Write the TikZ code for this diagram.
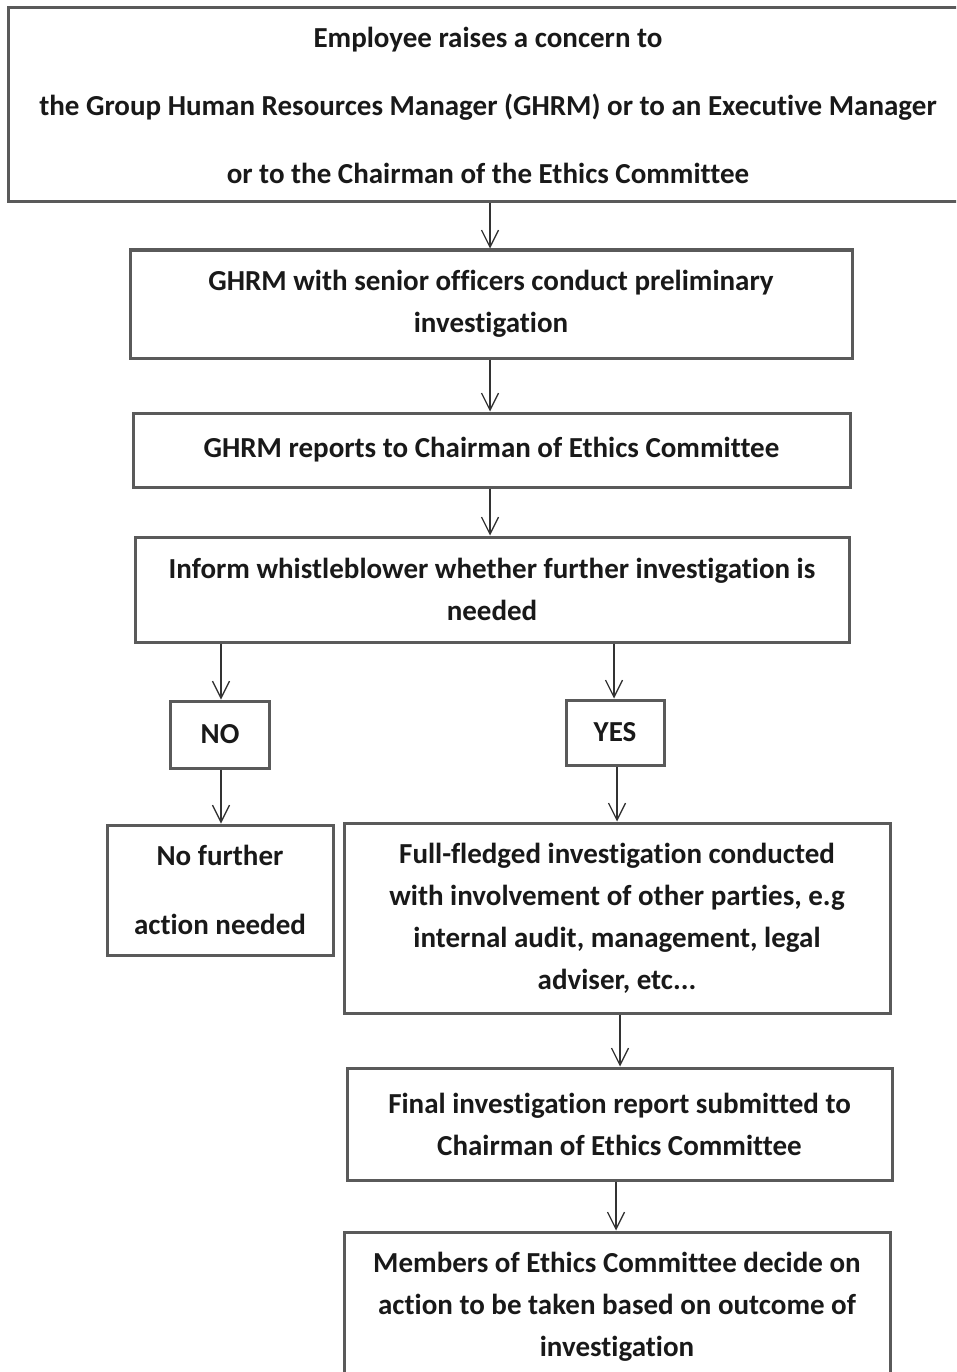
\documentclass[tikz,border=0pt]{standalone}
\usepackage{fontspec}
\setmainfont{Carlito}[Ligatures=NoCommon]
\usetikzlibrary{arrows.meta}
\definecolor{boxgray}{HTML}{5A5A5A}
\definecolor{arrgray}{HTML}{333333}
\begin{document}
\begin{tikzpicture}[x=1pt,y=-1pt,
  box/.style={draw=boxgray, line width=3pt, fill=white, align=center, inner sep=0pt,
    font=\bfseries\fontsize{29}{42}\selectfont, text=black!90},
  arr/.style={draw=arrgray, line width=1.3pt, -{Straight Barb[length=17pt,width=17pt,line width=1.3pt]}}]
\clip (0,0) rectangle (956,1372);
\fill[white] (0,0) rectangle (956,1372);
% top box (cut at right edge)
\node[box, minimum width=952pt, minimum height=194pt, font=\bfseries\fontsize{29}{68}\selectfont] (b1) at (484,105)
  {\hspace*{8pt}Employee raises a concern to\\ \hspace*{8pt}the Group Human Resources Manager (GHRM) or to an Executive Manager\\ \hspace*{8pt}or to the Chairman of the Ethics Committee};
\node[box, minimum width=722pt, minimum height=108pt] (b2) at (491,304)
  {GHRM with senior officers conduct preliminary\\ investigation};
\node[box, minimum width=717pt, minimum height=74pt] (b3) at (491.5,450)
  {GHRM reports to Chairman of Ethics Committee};
\node[box, minimum width=714pt, minimum height=105pt] (b4) at (492,589.5)
  {Inform whistleblower whether further investigation is\\ needed};
\node[box, minimum width=99pt, minimum height=67pt] (no) at (220,734.5) {NO};
\node[box, minimum width=98pt, minimum height=65pt] (yes) at (615,732.5) {YES};
\node[box, minimum width=226pt, minimum height=130pt, font=\bfseries\fontsize{29}{69}\selectfont] (nf) at (220,890)
  {No further\\ action needed};
\node[box, minimum width=546pt, minimum height=190pt] (full) at (617,918)
  {Full-fledged investigation conducted\\ with involvement of other parties, e.g\\ internal audit, management, legal\\ adviser, etc...};
\node[box, minimum width=545pt, minimum height=112pt] (final) at (619.5,1124)
  {Final investigation report submitted to\\ Chairman of Ethics Committee};
\node[box, minimum width=546pt, minimum height=150pt] (mem) at (617,1307)
  {Members of Ethics Committee decide on\\ action to be taken based on outcome of\\ investigation};
% connectors
\coordinate (c1) at (490,0);
\draw[arr] (c1 |- b1.south) -- (c1 |- b2.north);
\draw[arr] (c1 |- b2.south) -- (c1 |- b3.north);
\draw[arr] (c1 |- b3.south) -- (c1 |- b4.north);
\coordinate (cn) at (221,0);
\draw[arr] (cn |- b4.south) -- (cn |- no.north);
\draw[arr] (cn |- no.south) -- (cn |- nf.north);
\coordinate (cy) at (614,0);
\draw[arr] (cy |- b4.south) -- (cy |- yes.north);
\coordinate (cf) at (617,0);
\draw[arr] (cf |- yes.south) -- (cf |- full.north);
\coordinate (cg) at (620,0);
\draw[arr] (cg |- full.south) -- (cg |- final.north);
\coordinate (cm) at (616,0);
\draw[arr] (cm |- final.south) -- (cm |- mem.north);
\end{tikzpicture}
\end{document}
